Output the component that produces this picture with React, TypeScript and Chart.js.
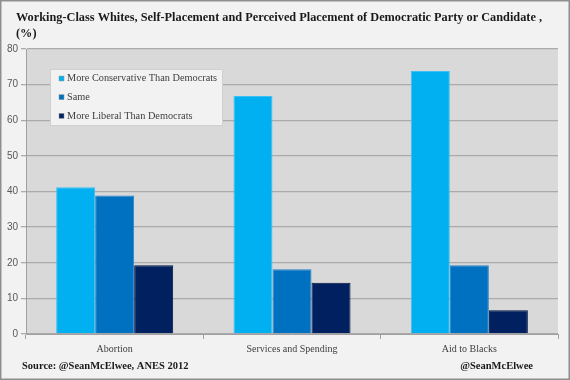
import React, { useEffect, useRef } from 'react';
import { Chart, registerables } from 'chart.js';

Chart.register(...registerables);

const categories = ['Abortion', 'Services and Spending', 'Aid to Blacks'];
const seriesNames = ['More Conservative Than Democrats', 'Same', 'More Liberal Than Democrats'];
const moreConservative = [41.2, 66.8, 73.8];
const same = [38.9, 18.2, 19.3];
const moreLiberal = [19.3, 14.4, 6.7];
const yMin = 0;
const yMax = 80;
const yStep = 10;
const titleLines = [
  'Working-Class Whites, Self-Placement and Perceived Placement of Democratic Party or Candidate ,',
  '(%)',
];
const sourceText = 'Source: @SeanMcElwee, ANES 2012';
const handleText = '@SeanMcElwee';

const colors = ['#00B0F0', '#0070C0', '#002060'];
const borders = ['#3cc0f3', '#2a82c9', '#00133d'];

const decorPlugin = {
  id: 'decor',
  beforeDraw(chart: any) {
    const { ctx, chartArea } = chart;
    ctx.save();
    ctx.fillStyle = '#f2f2f2';
    ctx.fillRect(0, 0, chart.width, chart.height);
    ctx.strokeStyle = '#8f8f8f';
    ctx.lineWidth = 1.5;
    ctx.strokeRect(0.75, 0.75, chart.width - 1.5, chart.height - 1.5);
    ctx.fillStyle = '#d9d9d9';
    ctx.fillRect(chartArea.left, chartArea.top, chartArea.right - chartArea.left, chartArea.bottom - chartArea.top);
    // title
    ctx.fillStyle = '#1a1a1a';
    ctx.font = 'bold 12.3px "Liberation Serif"';
    ctx.textAlign = 'left';
    ctx.textBaseline = 'middle';
    ctx.fillText(titleLines[0], 16, 17.5);
    ctx.fillText(titleLines[1], 16, 33.5);
    // footer
    ctx.font = 'bold 10.5px "Liberation Serif"';
    ctx.fillText(sourceText, 22, 366);
    ctx.textAlign = 'right';
    ctx.fillText(handleText, 533, 366);
    ctx.restore();
  },
  afterDraw(chart: any) {
    const { ctx } = chart;
    ctx.save();
    const x = 50, y = 69, w = 172, h = 56;
    ctx.fillStyle = '#f2f2f2';
    ctx.fillRect(x, y, w, h);
    ctx.strokeStyle = '#d0d0d0';
    ctx.lineWidth = 1;
    ctx.strokeRect(x + 0.5, y + 0.5, w, h);
    ctx.font = '10.3px "Liberation Serif"';
    ctx.textAlign = 'left';
    ctx.textBaseline = 'middle';
    chart.data.datasets.forEach((ds: any, i: number) => {
      const cy = 78.5 + i * 18.7;
      ctx.fillStyle = ds.backgroundColor;
      ctx.fillRect(59, cy - 2.5, 5, 5);
      ctx.strokeStyle = '#9a9a9a';
      ctx.lineWidth = 0.5;
      ctx.strokeRect(59, cy - 2.5, 5, 5);
      ctx.fillStyle = '#404040';
      ctx.fillText(ds.label, 67, cy);
    });
    ctx.restore();
  },
};

export default function App() {
  const ref = useRef<HTMLCanvasElement>(null);
  useEffect(() => {
    document.body.style.margin = '0';
    const values = [moreConservative, same, moreLiberal];
    const chart = new Chart(ref.current!, {
      type: 'bar',
      data: {
        labels: categories,
        datasets: values.map((v, i) => ({
          label: seriesNames[i],
          data: v,
          backgroundColor: colors[i],
          borderColor: borders[i],
          borderWidth: 1,
          categoryPercentage: 0.66,
          barPercentage: 1,
        })),
      },
      options: {
        responsive: false,
        animation: false,
        layout: { padding: { left: 0, top: 49, right: 12, bottom: 0 } },
        plugins: {
          legend: { display: false },
          title: { display: false },
          tooltip: { enabled: false },
        },
        scales: {
          x: {
            grid: { drawOnChartArea: false, drawTicks: true, tickLength: 5, color: '#a0a0a0' },
            border: { display: true, color: '#a0a0a0' },
            ticks: {
              color: '#404040',
              font: { family: '"Liberation Serif"', size: 10 },
              padding: 4,
            },
            afterFit(s: any) { s.height = 46; },
          },
          y: {
            min: yMin,
            max: yMax,
            ticks: {
              stepSize: yStep,
              color: '#595959',
              font: { family: '"Liberation Sans"', size: 10 },
              padding: 3,
            },
            grid: { color: '#aaaaaa', lineWidth: 1.3, tickLength: 5 },
            border: { display: true, color: '#a0a0a0' },
            afterFit(s: any) { s.width = 26; },
          },
        },
      },
      plugins: [decorPlugin],
    });
    return () => chart.destroy();
  }, []);
  return <canvas ref={ref} width={570} height={380} style={{ display: 'block' }} />;
}
